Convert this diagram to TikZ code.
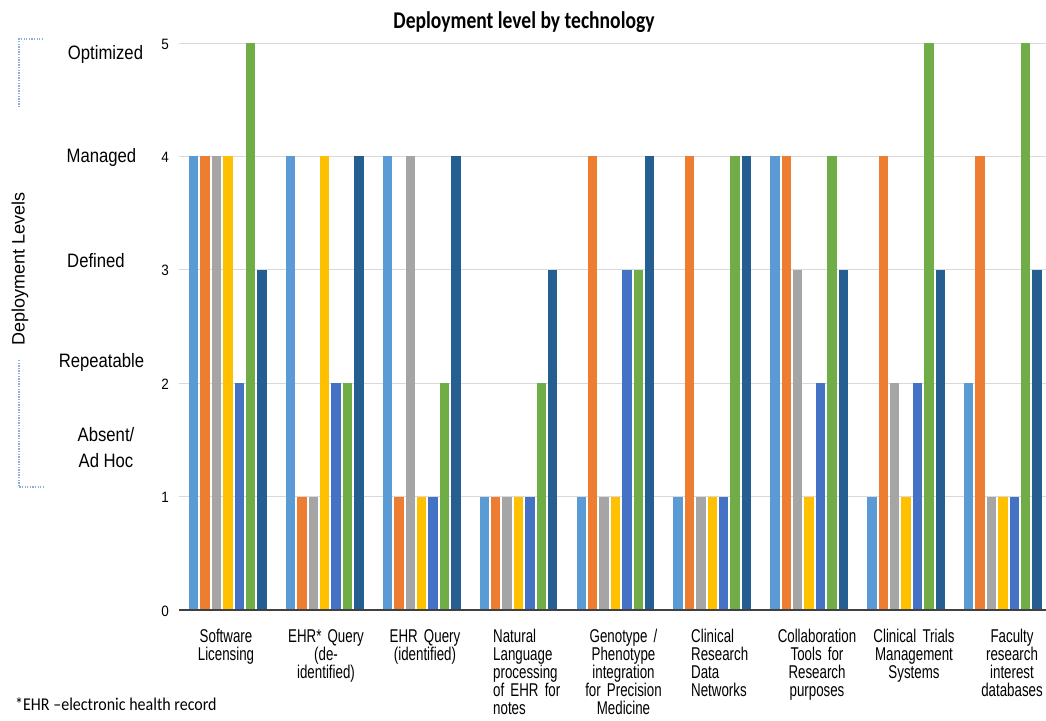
\documentclass[tikz,border=0pt]{standalone}
\usepackage{fontspec}
\newfontfamily\arialN[FakeStretch=0.72]{Liberation Sans}
\newfontfamily\arialM[FakeStretch=0.86]{Liberation Sans}
\newfontfamily\arialT[FakeStretch=0.9]{Liberation Sans}
\newfontfamily\arialR{Liberation Sans}
\newfontfamily\calibriN[FakeStretch=0.815]{Carlito}
\newfontfamily\calibriF[FakeStretch=0.89]{Carlito}
\newcommand\myCatFont{\arialN\fontsize{18.5}{18.2}\selectfont}
\newcommand\myLevelFont{\arialM\fontsize{19.4}{25.5}\selectfont}
\newcommand\myTitleFont{\calibriN\bfseries\fontsize{24}{26}\selectfont}
\newcommand\myFootFont{\calibriF\fontsize{18}{20}\selectfont}
\definecolor{c1}{HTML}{5B9BD5}
\definecolor{c2}{HTML}{ED7D31}
\definecolor{c3}{HTML}{A5A5A5}
\definecolor{c4}{HTML}{FFC000}
\definecolor{c5}{HTML}{4472C4}
\definecolor{c6}{HTML}{70AD47}
\definecolor{c7}{HTML}{255E91}
\definecolor{gridc}{HTML}{D9D9D9}
\definecolor{axisc}{HTML}{404040}
\definecolor{bracketc}{HTML}{8FAADC}
\tikzset{
  gridline/.style={draw=gridc, line width=1pt},
  axisline/.style={draw=axisc, line width=1.4pt},
  catlabel/.style={inner sep=0pt, text width=110pt, align=center, anchor=base,
    font=\myCatFont},
  catlabelL/.style={inner sep=0pt, text width=90pt, align=left, anchor=base west,
    font=\myCatFont},
  levellabel/.style={inner sep=0pt, anchor=base, align=center,
    font=\myLevelFont},
  ticklabel/.style={inner sep=0pt, anchor=base east, font=\arialT\fontsize{15}{15}\selectfont},
  bracket/.style={draw=bracketc, line width=1.5pt, dash pattern=on 1.3pt off 1.3pt},
}
\begin{document}
\begin{tikzpicture}[x=1pt, y=-1pt]
\useasboundingbox (0,0) rectangle (1046,720);
% title
\node[inner sep=0pt, anchor=base, font=\myTitleFont] (title) at (524,28) {Deployment level by technology};
% gridlines
\foreach \v in {1,...,5} {
  \draw[gridline] (179,{610-113.4*\v}) -- (1046,{610-113.4*\v});
  \node[ticklabel] (tick\v) at (169,{616-113.4*\v}) {\v};
}
\node[ticklabel] (tick0) at (169,616.5) {0};
% bars
\foreach \g/\vals in {0/{4,4,4,4,2,5,3}, 1/{4,1,1,4,2,2,4}, 2/{4,1,4,1,1,2,4},
  3/{1,1,1,1,1,2,3}, 4/{1,4,1,1,3,3,4}, 5/{1,4,1,1,1,4,4}, 6/{4,4,3,1,2,4,3},
  7/{1,4,2,1,2,5,3}, 8/{2,4,1,1,1,5,3}} {
  \foreach \v [count=\i from 0] in \vals {
    \pgfmathsetmacro{\xl}{189+96.875*\g+11.4*\i}
    \pgfmathtruncatemacro{\ci}{\i+1}
    \fill[c\ci] (\xl,610) rectangle ({\xl+9.4},{610-113.4*\v});
  }
}
% axis
\draw[axisline] (179,610) -- (1046,610);
% category labels
\node[catlabel] (cat1) at (226,642) {Software\\Licensing};
\node[catlabel] (cat2) at (326,642) {EHR* Query\\(de-\\identified)};
\node[catlabel] (cat3) at (425,642) {EHR Query\\(identified)};
\node[catlabelL] (cat4) at (493,642) {Natural\\Language\\processing\\of EHR for\\notes};
\node[catlabel] (cat5) at (623.5,642) {Genotype /\\Phenotype\\integration\\for Precision\\Medicine};
\node[catlabelL] (cat6) at (691,642) {Clinical\\Research\\Data\\Networks};
\node[catlabel] (cat7) at (817,642) {Collaboration\\Tools for\\Research\\purposes};
\node[catlabel] (cat8) at (914,642) {Clinical Trials\\Management\\Systems};
\node[catlabel] (cat9) at (1012,642) {Faculty\hspace*{17pt}\\research\\interest\\databases};
% level labels
\node[levellabel] (lvl5) at (105.5,59) {Optimized};
\node[levellabel] (lvl4) at (101.5,162) {Managed};
\node[levellabel] (lvl3) at (96,267) {Defined};
\node[levellabel] (lvl2) at (101.5,367.5) {Repeatable};
\node[levellabel] (lvl1) at (106,467) {Absent/\\Ad Hoc};
% axis title
\node[inner sep=0pt, rotate=90, font=\arialR\fontsize{18}{20}\selectfont] (ytitle) at (20,269) {Deployment Levels};
% brackets
\coordinate (bt1) at (43,39);
\coordinate (bt2) at (19,39);
\coordinate (bt3) at (19,108);
\coordinate (bb1) at (19,360);
\coordinate (bb2) at (19,487);
\coordinate (bb3) at (43,487);
\draw[bracket] (bt1) -- (bt2) -- (bt3);
\draw[bracket] (bb1) -- (bb2) -- (bb3);
% footnote
\node[inner sep=0pt, anchor=base west, font=\myFootFont] (foot) at (15,710) {*EHR –electronic health record};
\end{tikzpicture}
\end{document}
